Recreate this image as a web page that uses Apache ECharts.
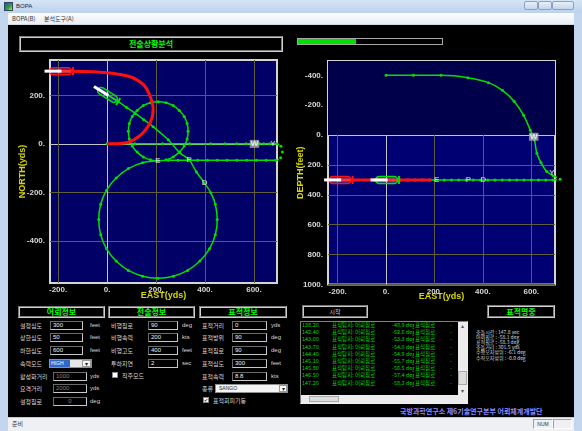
<!DOCTYPE html>
<html><head><meta charset="utf-8">
<script src="https://cdn.jsdelivr.net/npm/echarts@6/dist/echarts.min.js"></script>
<style>
html,body{margin:0;padding:0;width:582px;height:431px;overflow:hidden;background:#c3d6ee;font-family:'Noto Sans CJK KR','Noto Sans',sans-serif;}
.a{position:absolute;box-sizing:border-box;white-space:nowrap;}
.lbl{color:#d8d8d8;font-size:6px;line-height:9px;}
.unit{color:#d8d8d8;font-size:6px;line-height:9px;font-family:'Liberation Sans',sans-serif;}
.inp{background:#000;border:1px solid;border-color:#6a6a6a #c8c8c8 #c8c8c8 #6a6a6a;color:#f0f0f0;font-size:6px;line-height:7px;padding-left:2px;font-family:'Liberation Sans',sans-serif;}
.dis{color:#808080;}
.sec{border:2px groove #d0d0d0;color:#00ff00;font-weight:bold;font-size:8px;text-align:center;}
.chk{background:#fff;border:1px solid #888;}
.list{color:#00d800;font-size:5.5px;line-height:7.2px;overflow:hidden;}
#chart{position:absolute;left:0;top:0;width:582px;height:431px;pointer-events:none;}
</style></head>
<body>
<div id="ui"></div>
<div id="chart"></div>
<script>
// ---- axis ticks ----
const eastTicks = [-200, 0, 200, 400, 600];
const northTicks = [-400, -200, 0, 200];
const depthTicks = [-400, -200, 0, 200, 400, 600, 800, 1000];

// ---- torpedo track, horizontal plane (yds) ----
const torpedoEast = [0, 113, 227, 338, 423, 481, 529, 568, 596, 613, 623, 640, 664, 692,
  710, 716, 709, 690,
  650, 610, 570, 530, 490, 450, 410, 370, 330, 290, 250, 209,
  177, 148, 123, 103, 91, 87, 91, 103, 123, 148, 177, 209, 241, 270, 295, 315, 327, 331, 327, 315, 295, 270, 241, 209,
  145, 87, 37, -2, -26, -34, -26, -2, 37, 87, 145, 208, 271, 329, 379, 418, 442, 450, 442, 424,
  398, 365, 335, 296, 250, 188, 150, 114, 80, 46, 2];
const torpedoNorth = [0, 0, 0, 0, 0, 0, 0, 0, 0, 0, 0, 0, 0, 0,
  -10, -34, -57, -68,
  -68, -68, -68, -68, -68, -68, -68, -68, -68, -68, -68, -70,
  -66, -54, -34, -9, 20, 52, 84, 113, 138, 158, 170, 174, 170, 158, 138, 113, 84, 52, 20, -9, -34, -54, -66, -70,
  -78, -102, -141, -191, -249, -312, -375, -433, -483, -522, -546, -554, -546, -522, -483, -433, -375, -312, -249, -202,
  -162, -116, -66, -36, 17, 71, 100, 127, 150, 174, 202];

// ---- torpedo track, vertical plane (east yds / depth feet) ----
const torpedoProfileEast = [0, 113, 227, 338, 423, 481, 529, 568, 596, 613, 623, 640, 664, 692, 719,
  690, 660, 630, 600, 570, 540, 510, 480, 450, 420, 390, 360, 330, 300, 270, 240, 209, 180, 150, 120, 90, 60, 30, 0, -34];
const torpedoProfileDepth = [-400, -400, -400, -384, -351, -300, -227, -133, -33, 33, 122, 184, 244, 273, 296,
  300, 300, 300, 300, 300, 300, 300, 300, 300, 300, 300, 300, 300, 300, 300, 300, 300, 300, 300, 300, 300, 300, 300, 300, 300];

// ---- target track ----
const targetEast = [0, 79, 133, 167, 185, 188, 181, 160, 133, 92, 24, -57, -146, -200];
const targetNorth = [0, 5, 33, 71, 113, 147, 181, 230, 257, 278, 291, 298, 300, 300];
const targetProfileEast = [188, -195];
const targetProfileDepth = [300, 300];

// ---- current positions: east, north, depth, heading(deg) ----
const torpedoPos = [2, 202, 300, 302];
const targetPos = [-190, 300, 300, 270];

// ---- event marks ----
const markNames = ['E', 'P', 'D', 'W', 'Y'];
const markEast = [208, 335, 398, 602, 677];
const markNorth = [-70, -64, -162, 0, 0];
const markProfileEast = [209, 340, 402, 610, 685];
const markProfileDepth = [300, 300, 300, 11, 255];

// ---- panel fields ----
const torpedoFields = [['설정심도', '300', 'feet'], ['상한심도', '50', 'feet'], ['하한심도', '600', 'feet'],
  ['속력모드', 'HIGH', ''], ['활성화거리', '1000', 'yds'], ['요격거리', '2000', 'yds'], ['설정침로', '0', 'deg']];
const tacticalFields = [['비행침로', '90', 'deg'], ['비행속력', '200', 'kts'], ['비행고도', '400', 'feet'], ['투하지연', '2', 'sec']];
const targetFields = [['표적거리', '0', 'yds'], ['표적방위', '90', 'deg'], ['표적침로', '90', 'deg'], ['표적심도', '300', 'feet'], ['표적속력', '8.8', 'kts']];
const logTimes = ['138.20', '142.40', '143.00', '143.70', '144.40', '145.10', '145.80', '146.50', '147.20'];
const logCourses = ['-48.9', '-52.6', '-53.3', '-54.0', '-54.9', '-55.7', '-56.5', '-57.4', '-58.3'];
const resultLines = ['충돌시간 : 147.8 sec', '어뢰침로 : -58.1 deg', '표적침로 : -58.3 deg', '충돌거리 : 301.5 yds', '수평오차방위 : -6.1 deg', '수직오차방위 : -0.0 deg'];

// ---------- window chrome and panels ----------
const ui = document.getElementById('ui');
function el(cls, x, y, w, h, text, css) {
  const d = document.createElement('div');
  d.className = 'a ' + (cls || '');
  d.style.left = x + 'px'; d.style.top = y + 'px';
  if (w != null) d.style.width = w + 'px';
  if (h != null) d.style.height = h + 'px';
  if (text != null) d.textContent = text;
  if (css) d.style.cssText += css;
  ui.appendChild(d);
  return d;
}
// title bar
el('', 0, 0, 582, 13, null, 'background:linear-gradient(#d6e5f6,#bcd2ec);');
el('', 4, 2, 9, 9, null, 'background:linear-gradient(135deg,#2050c0,#30a040 60%,#e0e040);border:1px solid #345;');
el('', 16, 1, 40, 11, 'BOPA', 'font:6px/11px "Liberation Sans",sans-serif;color:#223;');
el('', 524, 1, 14, 9, null, 'border:1px solid #8aa2c0;border-radius:2px;background:linear-gradient(#e8f0fa,#c4d6ec);');
el('', 538, 1, 14, 9, null, 'border:1px solid #8aa2c0;border-radius:2px;background:linear-gradient(#e8f0fa,#c4d6ec);');
el('', 552, 1, 22, 9, null, 'border:1px solid #8aa2c0;border-radius:2px;background:linear-gradient(#e8f0fa,#c4d6ec);');
// menu bar
el('', 8, 13, 566, 12, null, 'background:linear-gradient(#fafbfd,#e9eef5);border-bottom:1px solid #d0d8e4;');
el('', 12, 13, 40, 12, 'BOPA(B)', 'font-size:6px;line-height:12px;color:#333;');
el('', 44, 13, 60, 12, '분석도구(A)', 'font-size:6px;line-height:12px;color:#333;');
// content area
el('', 8, 25, 566, 392, null, 'background:#000;');
// status bar
el('', 8, 417, 566, 14, null, 'background:#eef0f3;border-top:1px solid #c8c8c8;');
el('', 12, 417, 30, 14, '준비', 'font-size:6px;line-height:14px;color:#333;');
el('', 533, 419, 20, 10, 'NUM', 'font:5px/9px "Liberation Sans",sans-serif;color:#333;border:1px solid;border-color:#a0a0a0 #fff #fff #a0a0a0;text-align:center;');
el('', 553, 419, 19, 10, null, 'border:1px solid;border-color:#a0a0a0 #fff #fff #a0a0a0;');

// header and progress
el('sec', 19, 36, 264, 16, '전술상황분석', 'line-height:12px;');
el('', 297, 38, 146, 7, null, 'border:1px solid #a8a8a8;background:#000;');
el('', 298, 39, 58, 5, null, 'background:#00e000;');

// panel section titles
el('sec', 18, 306, 87, 12, '어뢰정보', 'line-height:8px;');
el('sec', 108, 306, 87, 12, '전술정보', 'line-height:8px;');
el('sec', 199, 306, 88, 12, '표적정보', 'line-height:8px;');

// torpedo info column
torpedoFields.forEach((f, i) => {
  const y = 320.5 + i * 12.75;
  el('lbl', 20, y, null, 9, f[0]);
  if (f[0] === '속력모드') {
    el('', 49, y, 43, 9, null, 'background:#e6e6e6;border:1px solid #909090;');
    el('', 50, y + 1, 20, 7, f[1], 'background:#3168c8;color:#fff;font:5px/7px "Liberation Sans",sans-serif;padding-left:1px;');
    el('', 82, y + 1, 9, 7, '▾', 'background:#f4f4f4;border:1px solid #999;font-size:6px;line-height:5px;text-align:center;color:#222;');
  } else if (i >= 4) {
    el('inp dis', 53, y, 34, 9, f[1], i === 6 ? 'text-align:center;padding-left:0;' : '');
    el('unit', 90, y, null, 9, f[2]);
  } else {
    el('inp', 50, y, 33, 9, f[1]);
    el('unit', 90, y, null, 9, f[2]);
  }
});
// tactical info column
tacticalFields.forEach((f, i) => {
  const y = 320.5 + i * 12.75;
  el('lbl', 111, y, null, 9, f[0]);
  el('inp', 148, y, 30, 9, f[1]);
  el('unit', 182, y, null, 9, f[2]);
});
el('chk', 112, 372, 6, 6);
el('lbl', 122, 370.5, null, 9, '직주모드');
// target info column
targetFields.forEach((f, i) => {
  const y = 320.5 + i * 12.75;
  el('lbl', 202, y, null, 9, f[0]);
  el('inp', 232, y, 35, 9, f[1]);
  el('unit', 271, y, null, 9, f[2]);
});
el('lbl', 202, 384, null, 9, '종류');
el('', 215, 384, 73, 9, 'SANGO', 'background:#f4f4f4;border:1px solid #909090;color:#222;font:5px/7px "Liberation Sans",sans-serif;padding-left:3px;');
el('', 279, 385, 8, 7, '▾', 'background:#fff;border:1px solid #999;font-size:6px;line-height:5px;text-align:center;color:#222;');
el('chk', 203, 397, 6, 6, '✔', 'font-size:5px;line-height:4px;color:#222;text-align:center;');
el('lbl', 213, 395.5, null, 9, '표적회피기동');

// start button, result title
el('', 302, 305, 66, 13, '시작', 'border:2px groove #c8c8c8;color:#d0d0d0;font-size:6px;line-height:9px;text-align:center;');
el('sec', 487, 305, 68, 13, '표적명중', 'line-height:9px;');

// event log
el('', 300, 321, 168, 83, null, 'background:#000;border:1px solid;border-color:#808080 #f0f0f0 #f0f0f0 #808080;overflow:hidden;');
logTimes.forEach((t, i) => {
  const y = 322 + i * 7.2;
  el('list', 302, y, 26, 7, t);
  el('list', 332, y, 58, 7, '표적탐지: 어뢰침로');
  el('list', 392, y, 22, 7, logCourses[i] + ' deg');
  el('list', 415, y, 26, 7, '표적침로');
  el('list', 450, y, 5, 7, '-');
});
el('', 458, 322, 9, 73, null, 'background:#ececec;');
el('', 458, 322, 9, 8, '▴', 'font-size:6px;line-height:8px;text-align:center;color:#555;');
el('', 458, 387, 9, 8, '▾', 'font-size:6px;line-height:8px;text-align:center;color:#555;');
el('', 458, 371, 9, 14, null, 'background:#dcdcdc;border:1px solid #aaa;');
el('', 301, 395, 157, 8, null, 'background:#ececec;');
el('', 309, 396, 30, 6, null, 'background:#dcdcdc;border:1px solid #aaa;');
el('', 458, 395, 9, 8, null, 'background:#ececec;');

// result summary
resultLines.forEach((t, i) => {
  el('', 476, 329 + i * 5.1, null, 6, t, 'color:#d8d8d8;font-size:5px;line-height:6px;');
});

// footer
el('', 400, 407, 160, 9, '국방과학연구소 제6기술연구본부 어뢰체계개발단', 'color:#8c8cff;font-size:7px;font-weight:bold;line-height:9px;');

// ---------- charts ----------
const chart = echarts.init(document.getElementById('chart'));
const gridLine = '#5e5e3c', zeroLine = '#c4c4cc';
const tickColors = ticks => ticks.map(v => v === 0 ? zeroLine : gridLine);
const labelStyle = { color: '#d8d8d8', fontSize: 8, fontWeight: 'bold', fontFamily: 'Liberation Sans', formatter: v => v + '.' };
const nameStyle = { color: '#d8d800', fontSize: 9, fontWeight: 'bold', fontFamily: 'Liberation Sans' };

function valueAxis(grid, min, max, ticks, name, isY, extra) {
  return Object.assign({
    type: 'value', gridIndex: grid, min, max, z: 1,
    name, nameLocation: 'middle', nameGap: isY ? 23 : 8, nameMoveOverlap: false, nameTextStyle: nameStyle,
    axisLine: { show: false }, axisTick: { show: false, customValues: ticks },
    axisLabel: Object.assign({ customValues: ticks, margin: isY ? 5 : 3 }, labelStyle),
    splitLine: { show: true, lineStyle: { color: tickColors(ticks), width: 1 } }
  }, extra || {});
}

function icon(xi, yi, pos, color, plane) {
  const value = plane === 'h' ? [pos[0], pos[1], pos[3]] : [pos[0], pos[2], pos[3]];
  return {
    type: 'custom', xAxisIndex: xi, yAxisIndex: yi, clip: false, z: 5, silent: true,
    data: [value],
    renderItem(params, api) {
      const p = api.coord([api.value(0), api.value(1)]);
      const hd = api.value(2) * Math.PI / 180;
      const ang = plane === 'h' ? Math.PI / 2 - hd : (Math.sin(hd) < 0 ? Math.PI : 0);
      return {
        type: 'group', x: p[0], y: p[1], rotation: ang, children: [
          { type: 'rect', shape: { x: -11, y: -3.5, width: 22, height: 7, r: 3.5 }, style: { fill: 'rgba(255,255,255,0.15)', stroke: color, lineWidth: 1.5 } },
          { type: 'line', shape: { x1: -1, y1: 0, x2: 16, y2: 0 }, style: { stroke: '#ffffff', lineWidth: 3 } },
          { type: 'line', shape: { x1: -12.5, y1: -4, x2: -12.5, y2: 4 }, style: { stroke: color, lineWidth: 2 } }
        ]
      };
    }
  };
}

function marks(xi, yi, xs, ys) {
  return {
    type: 'scatter', xAxisIndex: xi, yAxisIndex: yi, z: 6, silent: true,
    symbolSize: 1, itemStyle: { color: 'rgba(0,0,0,0)' },
    data: markNames.map((n, i) => ({
      name: n, value: [xs[i], ys[i]],
      label: n === 'W' ? { backgroundColor: '#a8a8a8', color: '#ffffff', padding: [0, 1, 0, 1] } : {}
    })),
    label: { show: true, position: 'inside', formatter: '{b}', color: '#d8d8d8', fontSize: 8, fontWeight: 'bold', fontFamily: 'Liberation Sans' }
  };
}

const pair = (a, b) => a.map((v, i) => [v, b[i]]);
const green = '#00e000', red = '#ff1010';

chart.setOption({
  animation: false,
  textStyle: { fontFamily: 'Liberation Sans' },
  grid: [
    { left: 50, top: 60, width: 227, height: 223, show: true, backgroundColor: '#000066', borderColor: '#d4d4d4', borderWidth: 2 },
    { left: 328, top: 61, width: 227, height: 223.5, show: true, backgroundColor: '#000072', borderColor: '#d4d4d4', borderWidth: 2 }
  ],
  xAxis: [
    valueAxis(0, -233, 694, eastTicks, 'EAST(yds)', false),
    valueAxis(1, -240, 698, eastTicks, 'EAST(yds)', false)
  ],
  yAxis: [
    valueAxis(0, -574, 346, northTicks, 'NORTH(yds)', true),
    valueAxis(1, -496, 1000, depthTicks, 'DEPTH(feet)', true, { inverse: true })
  ],
  series: [
    // air layer above the surface
    { type: 'line', xAxisIndex: 1, yAxisIndex: 1, z: 0, silent: true, data: [],
      markArea: { silent: true, itemStyle: { color: '#00004a' }, data: [[{ yAxis: -496 }, { yAxis: 0 }]] } },
    // horizontal plane (the turn at the far east runs past the frame)
    { type: 'line', xAxisIndex: 0, yAxisIndex: 0, z: 2, smooth: 0.4, clip: false, data: pair(torpedoEast, torpedoNorth),
      lineStyle: { color: green, width: 1.5 }, symbol: 'circle', symbolSize: 3, itemStyle: { color: green } },
    { type: 'line', xAxisIndex: 0, yAxisIndex: 0, z: 3, smooth: 0.4, data: pair(targetEast, targetNorth),
      lineStyle: { color: red, width: 3 }, showSymbol: false },
    icon(0, 0, targetPos, red, 'h'),
    icon(0, 0, torpedoPos, green, 'h'),
    marks(0, 0, markEast, markNorth),
    // vertical plane
    { type: 'line', xAxisIndex: 1, yAxisIndex: 1, z: 2, smooth: 0.3, clip: false, data: pair(torpedoProfileEast, torpedoProfileDepth),
      lineStyle: { color: green, width: 1.5 }, symbol: 'circle', symbolSize: 3, itemStyle: { color: green } },
    { type: 'line', xAxisIndex: 1, yAxisIndex: 1, z: 3, data: pair(targetProfileEast, targetProfileDepth),
      lineStyle: { color: red, width: 3 }, showSymbol: false },
    icon(1, 1, targetPos, red, 'v'),
    icon(1, 1, torpedoPos, green, 'v'),
    marks(1, 1, markProfileEast, markProfileDepth)
  ]
});
</script>
</body></html>
